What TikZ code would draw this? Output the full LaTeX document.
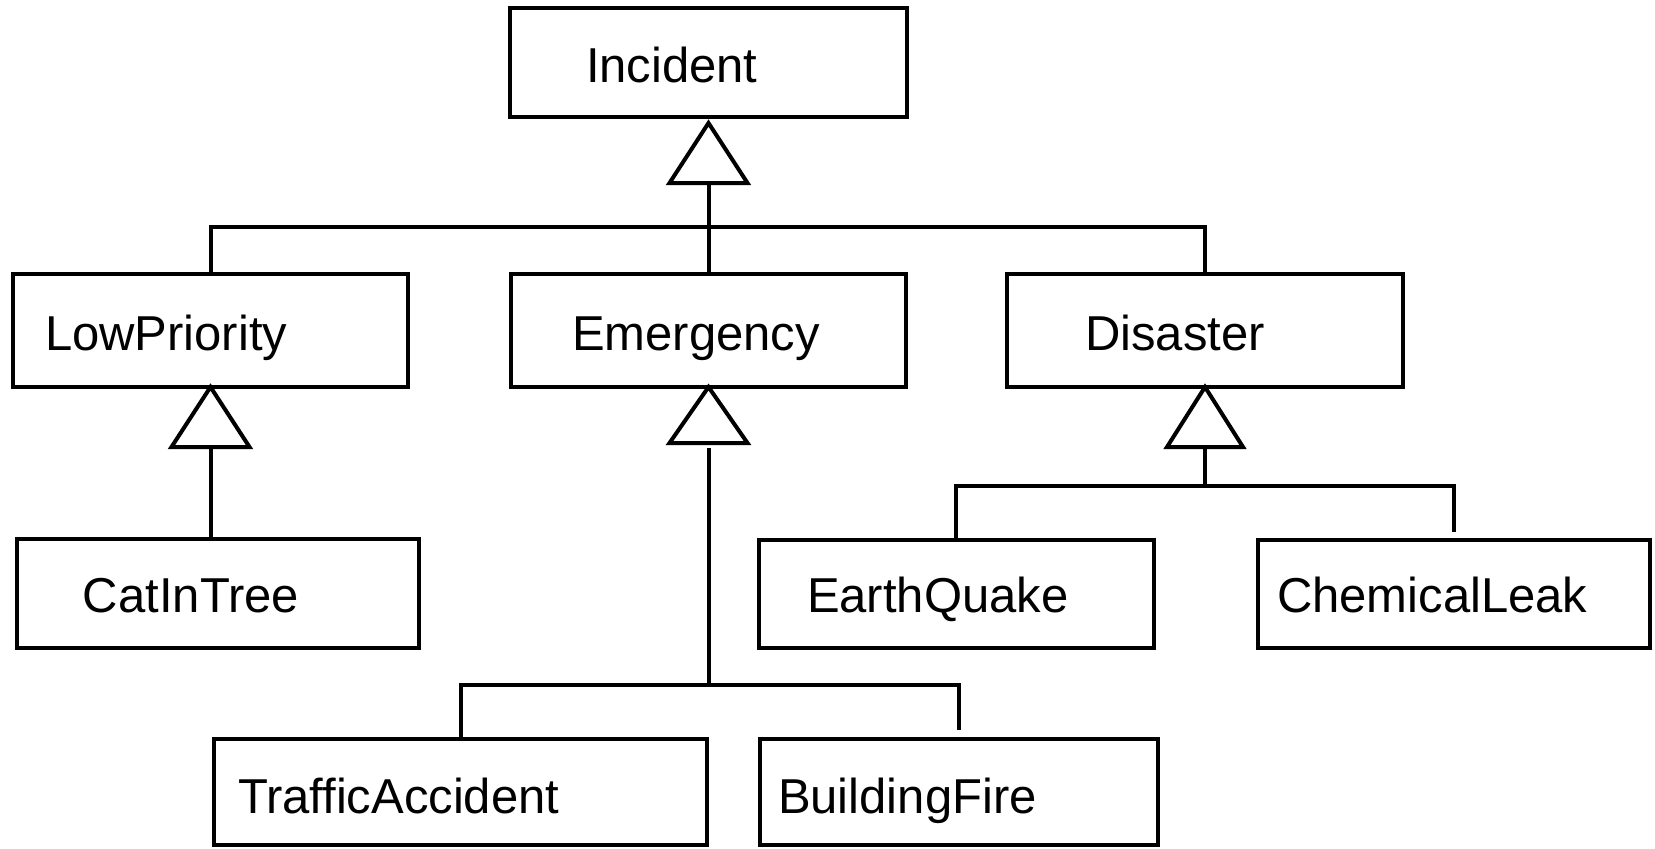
\documentclass[tikz,border=0pt]{standalone}
\usepackage{fontspec}
\setmainfont{Liberation Sans}
\begin{document}
\begin{tikzpicture}[x=0.5pt,y=-0.5pt,
  box/.style={draw, line width=2pt, inner sep=0pt, outer sep=0pt},
  lbl/.style={anchor=base west, inner sep=0pt, outer sep=0pt,
              font=\fontsize{24.5pt}{29pt}\selectfont},
  line/.style={line width=2pt},
  gen/.style={line width=2pt, fill=white}]
\useasboundingbox (0,0) rectangle (1655,848);

% class boxes
\node[box, minimum width=198.5pt, minimum height=54.5pt] (inc)   at (708.5,62.5) {};
\node[box, minimum width=197.5pt, minimum height=56.5pt] (low)   at (210.5,330.5) {};
\node[box, minimum width=197.5pt, minimum height=56.5pt] (emer)  at (708.5,330.5) {};
\node[box, minimum width=198pt,   minimum height=56.5pt] (dis)   at (1205,330.5) {};
\node[box, minimum width=201pt,   minimum height=54.5pt] (cat)   at (218,593.5) {};
\node[box, minimum width=197.5pt, minimum height=54pt]   (quake) at (956,593.5) {};
\node[box, minimum width=196pt,   minimum height=54pt]   (chem)  at (1454,594) {};
\node[box, minimum width=246.5pt, minimum height=53pt]   (traf)  at (460.5,792) {};
\node[box, minimum width=199pt,   minimum height=53pt]   (fire)  at (959,792) {};

% class names
\node[lbl] (t-inc)   at (586,82)   {Incident};
\node[lbl] (t-low)   at (45,350)   {LowPriority};
\node[lbl] (t-emer)  at (572,350)  {Emergency};
\node[lbl] (t-dis)   at (1085,350) {Disaster};
\node[lbl] (t-cat)   at (83,612)   {CatInTree};
\node[lbl] (t-quake) at (807,612)  {EarthQuake};
\node[lbl] (t-chem)  at (1277,612) {ChemicalLeak};
\node[lbl] (t-traf)  at (238,813)  {TrafficAccident};
\node[lbl] (t-fire)  at (778,813)  {BuildingFire};

% junctions of the shared connectors
\coordinate (j1) at (inc.south |- 0,227);
\coordinate (j2) at (emer.south |- 0,685);
\coordinate (j3) at (dis.south |- 0,486);
\coordinate (fire-end) at ([yshift=4.5pt]fire.north);
\coordinate (chem-end) at ([yshift=4pt]chem.north);

% Incident specialisations
\draw[line] (inc.south) ++(0,66) -- (emer.north);
\draw[line] (low.north) |- (j1) -| (dis.north);
\draw[gen] (inc.south) ++(0,6) -- ++(-39,60) -- ++(78,0) -- cycle;

% LowPriority specialisation
\draw[line] (low.south) ++(0,60) -- (low.south |- cat.north);
\draw[gen] (low.south) -- ++(-39,60) -- ++(78,0) -- cycle;

% Emergency specialisations
\draw[line] (emer.south) ++(0,61) -- (j2);
\draw[line] (traf.north) |- (j2) -| (fire-end);
\draw[gen] (emer.south) -- ++(-39,56) -- ++(78,0) -- cycle;

% Disaster specialisations
\draw[line] (dis.south) ++(0,60) -- (j3);
\draw[line] (quake.north) |- (j3) -| (chem-end);
\draw[gen] (dis.south) -- ++(-38,60) -- ++(76,0) -- cycle;
\end{tikzpicture}
\end{document}
